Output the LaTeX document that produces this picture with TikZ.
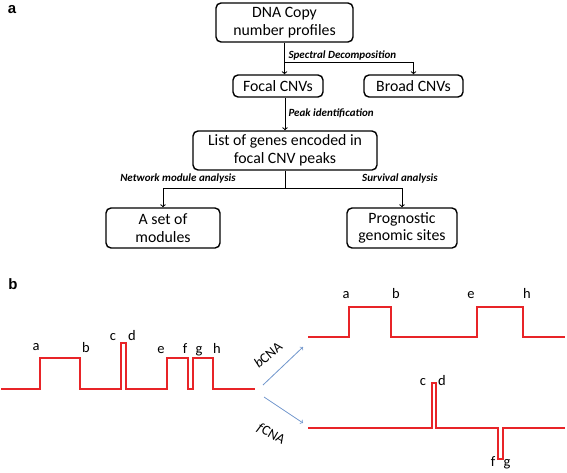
\documentclass[tikz,border=0pt]{standalone}
\usepackage{fontspec}
\setmainfont{Carlito}
\newfontfamily\panelfont{Liberation Sans}
\usetikzlibrary{positioning}

\definecolor{sigred}{RGB}{232,36,40}
\definecolor{arrblue}{RGB}{112,150,204}

\tikzset{
	stepbox/.style={draw, line width=1.4pt, rounded corners=5pt, align=center, inner sep=0pt, font=\fontsize{15.8}{17.5}\selectfont},
	flow/.style={->, line width=1pt},
	steplabel/.style={font=\fontsize{11}{13}\selectfont\bfseries\itshape},
	panellabel/.style={font=\panelfont\fontsize{15}{18}\selectfont\bfseries},
	signal/.style={sigred, line width=1.3pt},
	peaklabel/.style={anchor=base, inner sep=0pt, font=\fontsize{14.5}{16}\selectfont},
	cnalabel/.style={inner sep=1pt, font=\fontsize{14}{16}\selectfont},
	split/.style={->, arrblue, line width=0.8pt}
}

\begin{document}
\begin{tikzpicture}[x=1pt, y=-1pt]
	\useasboundingbox (0,0) rectangle (567,472);

	% Panel a: workflow
	\node[panellabel] (labA) at (12,10) {a};
	\node[stepbox, minimum width=137pt, minimum height=39pt] (dna) at (284.5,22.5) {DNA Copy\\number profiles};
	\node[stepbox, minimum width=90pt, minimum height=22pt] (focal) at (278,86) {Focal CNVs};
	\node[stepbox, minimum width=99pt, minimum height=22pt] (broad) at (413.5,86) {Broad CNVs};
	\node[stepbox, minimum width=184pt, minimum height=39pt] (genes) at (285,150.5) {List of genes encoded in\\focal CNV peaks};
	\node[stepbox, minimum width=114pt, minimum height=40pt] (modules) at (163,228) {A set of\\modules};
	\node[stepbox, minimum width=110pt, minimum height=40pt] (sites) at (402,228) {Prognostic\\genomic sites};

	\coordinate (split1) at (284,62);
	\coordinate (fork) at (285,188);
	\draw[flow] (dna.south) -- (dna.south |- focal.north);
	\draw[flow] (split1) -| (broad.north);
	\draw[flow] (genes.north |- focal.south) -- (genes.north);
	\draw[line width=1pt] (genes.south) -- (fork);
	\draw[flow] (fork) -| (modules.north);
	\draw[flow] (fork) -| (sites.north);

	\node[steplabel, anchor=west] (spec) at (285,55) {Spectral Decomposition};
	\node[steplabel, anchor=west] (peak) at (285,113) {Peak identification};
	\node[steplabel] (netw) at (178,178) {Network module analysis};
	\node[steplabel] (surv) at (400,178) {Survival analysis};

	% Panel b: copy number profile and its two parts
	\node[panellabel] (labB) at (13,284) {b};
	\draw[signal] (1,389) -- (40,389) -- (40,358) -- (80,358) -- (80,389) -- (121,389) -- (121,343) -- (126,343) -- (126,389) -- (167,389) -- (167,358) -- (188,358) -- (188,389) -- (193,389) -- (193,358) -- (213,358) -- (213,389) -- (255,389);
	\node[peaklabel] (la) at (36,350) {a};
	\node[peaklabel] (lb) at (86,352.5) {b};
	\node[peaklabel] (lc) at (113,340) {c};
	\node[peaklabel] (ld) at (132,340) {d};
	\node[peaklabel] (le) at (161,353.5) {e};
	\node[peaklabel] (lf) at (185,353.5) {f};
	\node[peaklabel] (lg) at (199,353.5) {g};
	\node[peaklabel] (lh) at (217,353.5) {h};

	\coordinate (bstart) at (263,385);
	\coordinate (bend) at (303,347);
	\coordinate (fstart) at (264,397);
	\coordinate (fend) at (303,423);
	\draw[split] (bstart) -- (bend);
	\draw[split] (fstart) -- (fend);
	\node[cnalabel, rotate=40] (bcna) at (268,355) {\textit{b}CNA};
	\node[cnalabel, rotate=-30] (fcna) at (271,434) {\textit{f}CNA};

	% broad part
	\draw[signal] (308,337) -- (349,337) -- (349,307) -- (391,307) -- (391,337) -- (477,337) -- (477,307) -- (523,307) -- (523,337) -- (565,337);
	\node[peaklabel] (ra) at (346,298.5) {a};
	\node[peaklabel] (rb) at (396,298.5) {b};
	\node[peaklabel] (re) at (471,298.5) {e};
	\node[peaklabel] (rh) at (527,298.5) {h};

	% focal part
	\draw[signal] (308,428) -- (432,428) -- (432,383) -- (436,383) -- (436,428) -- (498,428) -- (498,459) -- (503,459) -- (503,428) -- (565,428);
	\node[peaklabel] (rc) at (423,385) {c};
	\node[peaklabel] (rd) at (442,385) {d};
	\node[peaklabel] (rf) at (493,466.5) {f};
	\node[peaklabel] (rg) at (507,466.5) {g};
\end{tikzpicture}
\end{document}
